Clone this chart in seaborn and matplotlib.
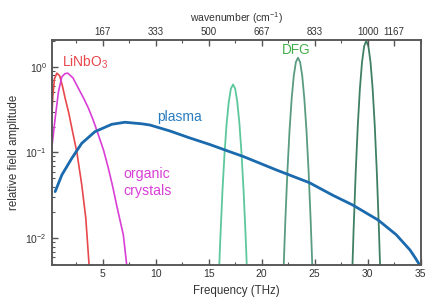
import numpy as np
import pandas as pd
import matplotlib
matplotlib.use("Agg")
import matplotlib.pyplot as plt
import seaborn as sns
from matplotlib.ticker import MultipleLocator, FixedLocator

# ---- data ----
linbo3_f = [0.2, 0.3, 0.45, 0.68, 0.95, 1.2, 1.46, 1.8, 2.09, 2.56, 3.03, 3.41, 3.72, 3.85]
linbo3_a = [0.26, 0.45, 0.72, 0.84, 0.78, 0.6, 0.43, 0.29, 0.193, 0.102, 0.042, 0.0172, 0.0049, 0.003]

organic_f = [0.2, 0.52, 0.83, 1.15, 1.45, 1.71, 2.2, 2.71, 3.2, 3.65, 4.1, 4.6, 5.1, 5.54, 5.95, 6.33, 6.65, 6.95, 7.27, 7.4]
organic_a = [0.112, 0.25, 0.51, 0.76, 0.83, 0.84, 0.74, 0.56, 0.43, 0.33, 0.24, 0.16, 0.105, 0.0655, 0.04, 0.024, 0.016, 0.011, 0.0049, 0.0035]

plasma_f = [0.52, 1.15, 2.09, 3.03, 4.28, 5.86, 7.1, 8.68, 9.46, 11.35, 13.2, 15.1, 17.0, 18.25, 21.4, 24.5,
            26.7, 28.6, 31.0, 32.7, 34.0, 34.5, 34.9]
plasma_a = [0.035, 0.0547, 0.0856, 0.128, 0.175, 0.213, 0.225, 0.216, 0.209, 0.178, 0.148, 0.124, 0.102, 0.09, 0.0625, 0.0445,
            0.0318, 0.0244, 0.0163, 0.011, 0.0073, 0.0059, 0.0049]

dfg1_f = [15.95, 16.1, 16.3, 16.5, 16.7, 16.9, 17.1, 17.3, 17.5, 17.7, 17.9, 18.1, 18.3, 18.5, 18.65]
dfg1_a = [0.0033, 0.0098, 0.035, 0.098, 0.22, 0.39, 0.555, 0.62, 0.555, 0.39, 0.22, 0.098, 0.035, 0.0098, 0.0033]

dfg2_f = [22.03, 22.23, 22.43, 22.63, 22.83, 23.03, 23.23, 23.43, 23.63, 23.83, 24.03, 24.23, 24.43, 24.63, 24.83]
dfg2_a = [0.0032, 0.0155, 0.06, 0.18, 0.42, 0.78, 1.13, 1.27, 1.13, 0.78, 0.42, 0.18, 0.06, 0.0155, 0.0032]

dfg3_f = [28.47, 28.67, 28.87, 29.07, 29.27, 29.47, 29.67, 29.87, 30.07, 30.27, 30.47, 30.67, 30.87, 31.07, 31.27]
dfg3_a = [0.002, 0.012, 0.0575, 0.206, 0.557, 1.13, 1.73, 2.0, 1.73, 1.13, 0.557, 0.206, 0.0575, 0.012, 0.002]

bottom_ticks = [5, 10, 15, 20, 25, 30, 35]
top_tick_pos = [5, 10, 15, 20, 25, 30, 32.5]
top_tick_labels = ["167", "333", "500", "667", "833", "1000", "1167"]

# ---- styling ----
sns.set_theme(style="white")
plt.rcParams["font.family"] = ["Liberation Sans", "DejaVu Sans"]
plt.rcParams["mathtext.default"] = "regular"

fig = plt.figure(figsize=(4.35, 3.0), dpi=100)
ax = fig.add_axes([0.119, 0.117, 0.848, 0.75])

curves = [
    (linbo3_f, linbo3_a, "#e8474c", 1.2),
    (organic_f, organic_a, "#d93fd6", 1.2),
    (dfg1_f, dfg1_a, "#5cc89c", 1.3),
    (dfg2_f, dfg2_a, "#5a9c82", 1.3),
    (dfg3_f, dfg3_a, "#3f8064", 1.3),
    (plasma_f, plasma_a, "#1a6aad", 2.0),
]
for f, a, c, lw in curves:
    df = pd.DataFrame({"f": f, "a": a})
    sns.lineplot(data=df, x="f", y="a", ax=ax, color=c, lw=lw, estimator=None, sort=False)

ax.set_yscale("log")
ax.set_xlim(0.2, 35)
ax.set_ylim(0.0049, 2.05)

spine_c = "#555555"
for s in ax.spines.values():
    s.set_color(spine_c)
    s.set_linewidth(1.1)

ax.set_xticks(bottom_ticks)
ax.xaxis.set_minor_locator(MultipleLocator(2.5))
ax.tick_params(axis="both", which="both", direction="in", colors=spine_c, labelcolor="#333333",
               labelsize=7.5, left=True, bottom=True, top=False, right=False)
ax.tick_params(axis="both", which="major", length=4, width=1)
ax.tick_params(axis="both", which="minor", length=2.5, width=0.8)
ax.tick_params(axis="x", pad=3)

ax.set_xlabel("Frequency (THz)", fontsize=8.3, color="#333333", labelpad=4)
ax.set_ylabel("relative field amplitude", fontsize=8.3, color="#333333", labelpad=4)

# top axis (wavenumber)
top = ax.twiny()
top.set_xlim(ax.get_xlim())
top.xaxis.set_major_locator(FixedLocator(top_tick_pos))
top.set_xticklabels(top_tick_labels)
top.xaxis.set_minor_locator(MultipleLocator(2.5))
top.tick_params(axis="x", which="both", direction="in", colors=spine_c, labelcolor="#333333",
                labelsize=7, pad=2, top=True, bottom=False)
top.tick_params(axis="x", which="major", length=4, width=1)
top.tick_params(axis="x", which="minor", length=2.5, width=0.8)
top.set_xlabel("wavenumber (cm$^{-1}$)", fontsize=7.5, color="#333333", labelpad=4)
for s in top.spines.values():
    s.set_color(spine_c)
    s.set_linewidth(1.1)

# annotations
ax.text(1.15, 1.0, "LiNbO$_3$", color="#e8474c", fontsize=10, ha="left", va="baseline")
ax.text(10.1, 0.235, "plasma", color="#2a7cc0", fontsize=10, ha="left", va="baseline")
ax.text(6.95, 0.0504, "organic", color="#d93fd6", fontsize=10.2, ha="left", va="baseline")
ax.text(6.95, 0.0318, "crystals", color="#d93fd6", fontsize=10.2, ha="left", va="baseline")
ax.text(21.9, 1.40, "DFG", color="#45ae4c", fontsize=9.8, ha="left", va="baseline")

fig.savefig("out.png", dpi=100)
